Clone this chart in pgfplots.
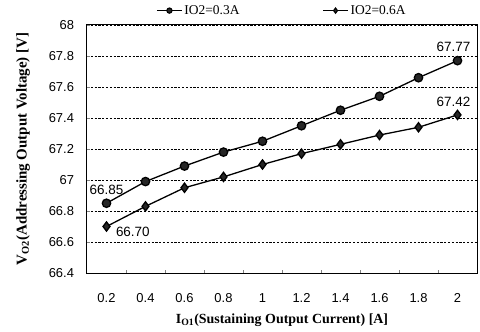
\documentclass[border=0pt]{standalone}
\usepackage{fontspec}
\setmainfont{Liberation Serif}
\setsansfont{Liberation Sans}
\usepackage{pgfplots}
\pgfplotsset{compat=1.18}
\begin{document}
\begin{tikzpicture}
\begin{axis}[
  scale only axis, width=390bp, height=248bp,
  at={(0,0)}, anchor=south west,
  xmin=-0.5, xmax=9.5, ymin=66.4, ymax=68,
  xtick={0,...,9},
  xticklabels={0.2,0.4,0.6,0.8,1,1.2,1.4,1.6,1.8,2},
  major x tick style={draw=none},
  minor xtick={0.5,1.5,2.5,3.5,4.5,5.5,6.5,7.5,8.5},
  minor tick length=3bp, major tick length=3bp,
  ytick={66.4,66.6,66.8,67,67.2,67.4,67.6,67.8,68},
  yticklabels={66.4,66.6,66.8,67,67.2,67.4,67.6,67.8,68},
  tick pos=left,
  tick align=inside,
  /pgf/number format/assume math mode=true,
  tick label style={font=\fontsize{13}{15}\sffamily},
  x tick label style={yshift=-17bp},
  y tick label style={xshift=-9.5bp},
  ymajorgrids,
  major grid style={black, line width=0.7bp, dash pattern=on 2.2bp off 1.6bp},
  axis line style={black, line width=1bp},
  xlabel={\textbf{I\textsubscript{O1}(Sustaining Output Current) [A]}},
  ylabel={\textbf{V\textsubscript{O2}(Addressing Output Voltage) [V]}},
  xlabel style={font=\fontsize{14}{16}\selectfont, yshift=-4bp},
  ylabel style={font=\fontsize{15}{17}\selectfont, yshift=12bp},
  legend columns=2,
  legend style={at={(0.5,1)}, anchor=south, yshift=5bp, draw=none, fill=none,
    font=\fontsize{13.5}{15}\selectfont,
    /tikz/every even column/.append style={column sep=81bp}},
  legend image code/.code={\draw[mark repeat=2,mark phase=2,#1,line width=1.1bp,mark size=2.6bp] plot coordinates {(0bp,0bp)(12.5bp,0bp)(25bp,0bp)};},
]
\addplot[black, line width=1.3bp, mark=*, mark size=4.2bp, mark options={fill=black!85}]
  coordinates {(0,66.85)(1,66.99)(2,67.09)(3,67.18)(4,67.25)(5,67.35)(6,67.45)(7,67.54)(8,67.66)(9,67.77)};
\addlegendentry{IO2=0.3A}
\addplot[black, line width=1.3bp, mark=diamond*, mark size=4.6bp, mark options={fill=black!85}]
  coordinates {(0,66.70)(1,66.83)(2,66.95)(3,67.02)(4,67.10)(5,67.17)(6,67.23)(7,67.29)(8,67.34)(9,67.42)};
\addlegendentry{IO2=0.6A}
\node[font=\fontsize{13.5}{15}\sffamily, anchor=south, yshift=5bp] at (axis cs:0,66.85) {66.85};
\node[font=\fontsize{13.5}{15}\sffamily, anchor=west, xshift=6bp, yshift=-5bp] at (axis cs:0,66.70) {66.70};
\node[font=\fontsize{13.5}{15}\sffamily, anchor=south, xshift=-4bp, yshift=5bp] at (axis cs:9,67.77) {67.77};
\node[font=\fontsize{13.5}{15}\sffamily, anchor=south, xshift=-4bp, yshift=5bp] at (axis cs:9,67.42) {67.42};
\end{axis}
\pgfresetboundingbox
\path (-87bp,-59bp) rectangle (393bp,273bp);
\end{tikzpicture}
\end{document}
